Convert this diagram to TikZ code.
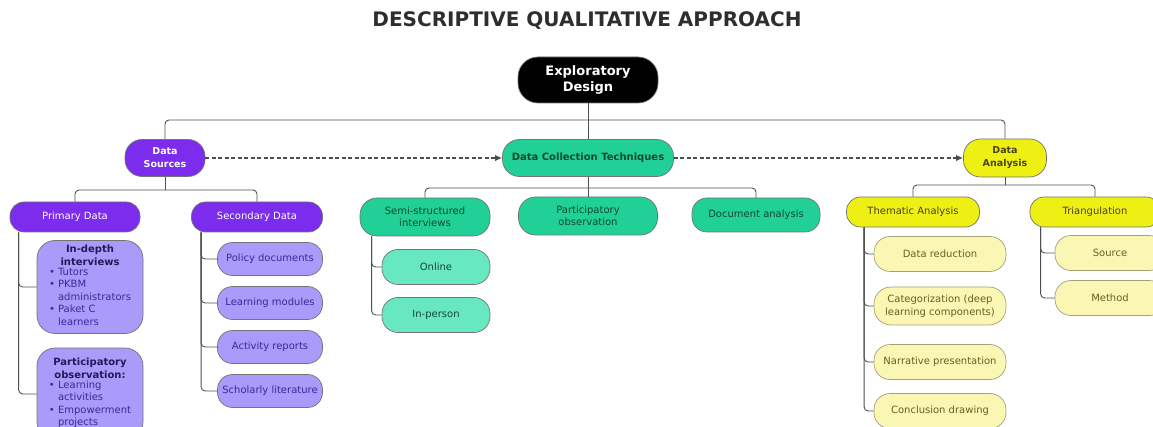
\documentclass[tikz,border=0pt]{standalone}
\usepackage{fontspec}
\setmainfont{DejaVu Sans}
\usetikzlibrary{arrows.meta}

\definecolor{dsPurple}{RGB}{124,44,236}
\definecolor{lavender}{RGB}{170,154,250}
\definecolor{lavText}{RGB}{62,40,150}
\definecolor{dcGreen}{RGB}{32,208,150}
\definecolor{lightGreen}{RGB}{104,232,192}
\definecolor{greenText}{RGB}{18,72,48}
\definecolor{daYellow}{RGB}{238,240,20}
\definecolor{paleYellow}{RGB}{250,246,180}
\definecolor{oliveText}{RGB}{105,96,30}
\definecolor{lineGray}{RGB}{80,80,80}

\tikzset{
  pill/.style={draw=black!55, line width=0.7pt, rounded corners=#1, align=center,
    inner sep=1pt, font=\fontsize{10}{12.5}\selectfont},
  pill/.default=13pt,
  rootnode/.style={pill=20pt, fill=black, text=white, font=\fontsize{13}{16}\selectfont\bfseries},
  srcnode/.style={fill=dsPurple, text=white},
  lavnode/.style={fill=lavender, text=lavText},
  dcnode/.style={fill=dcGreen, text=greenText},
  lgnode/.style={fill=lightGreen, text=greenText},
  danode/.style={fill=daYellow, text=oliveText!70!black},
  pynode/.style={fill=paleYellow, text=oliveText, draw=oliveText!60},
  link/.style={draw=lineGray, line width=0.9pt, rounded corners=4pt},
  flow/.style={draw=black!70, line width=2pt, dash pattern=on 4pt off 2.5pt,
    -{Latex[length=7pt,width=6.5pt]}}
}

\begin{document}
\begin{tikzpicture}[x=1pt,y=1pt,yscale=-1]
\useasboundingbox (0,0) rectangle (1153,427);
\clip (0,0) rectangle (1153,427);

% Title
\node (title) at (587,21) {\fontsize{20}{24}\selectfont\bfseries\color{black!82}DESCRIPTIVE QUALITATIVE APPROACH};

% Top level
\node[rootnode, minimum width=140pt, minimum height=46pt] (exd) at (588,80) {Exploratory\\Design};
\node[pill=17pt, srcnode, font=\fontsize{9.5}{13}\selectfont\bfseries, minimum width=80pt, minimum height=37pt] (ds) at (165,158) {Data\\Sources};
\node[pill=17pt, dcnode, font=\fontsize{10}{12.5}\selectfont\bfseries, minimum width=171pt, minimum height=37pt] (dct) at (588,158) {Data Collection Techniques};
\node[pill=17pt, danode, font=\fontsize{9.5}{13}\selectfont\bfseries, minimum width=83pt, minimum height=38pt] (da) at (1005,158) {Data\\Analysis};

\coordinate (topbus) at (588,120);
\coordinate (dsbus) at (165,190);
\coordinate (dcbus) at (588,188);
\coordinate (dabus) at (1005,185);

% Data sources branch
\node[pill=14pt, srcnode, minimum width=130pt, minimum height=30pt] (pd) at (75,217) {Primary Data};
\node[pill=14pt, srcnode, minimum width=131pt, minimum height=30pt] (sd) at (257,217) {Secondary Data};

\node[pill=18pt, lavnode, minimum width=106pt, minimum height=93pt] (idi) at (90,287)
  {\textbf{\color{lavText!60!black}In-depth}\\\textbf{\color{lavText!60!black}interviews}\\
   \begin{tabular}{@{}l@{\ }l@{}}•&Tutors\\•&PKBM\\&administrators\\•&Paket C\\&learners\end{tabular}};
\node[pill=18pt, lavnode, minimum width=106pt, minimum height=92pt] (pob) at (90,394)
  {\textbf{\color{lavText!60!black}Participatory}\\\textbf{\color{lavText!60!black}observation:}\\
   \begin{tabular}{@{}l@{\ }l@{}}•&Learning\\&activities\\•&Empowerment\\&projects\end{tabular}};

\node[pill=15pt, lavnode, minimum width=105pt, minimum height=33pt] (pdoc) at (270,259) {Policy documents};
\node[pill=15pt, lavnode, minimum width=105pt, minimum height=33pt] (lmod) at (270,303) {Learning modules};
\node[pill=15pt, lavnode, minimum width=105pt, minimum height=33pt] (arep) at (270,347) {Activity reports};
\node[pill=15pt, lavnode, minimum width=105pt, minimum height=33pt] (slit) at (270,391) {Scholarly literature};

% Data collection branch
\node[pill=17pt, dcnode, minimum width=130pt, minimum height=38pt] (ssi) at (425,217) {Semi-structured\\interviews};
\node[pill=17pt, dcnode, minimum width=139pt, minimum height=38pt] (pobs) at (588,216) {Participatory\\observation};
\node[pill=15pt, dcnode, minimum width=128pt, minimum height=34pt] (doc) at (756,215) {Document analysis};

\node[pill=16pt, lgnode, minimum width=108pt, minimum height=35pt] (onl) at (436,267) {Online};
\node[pill=16pt, lgnode, minimum width=108pt, minimum height=35pt] (inp) at (436,315) {In-person};

% Data analysis branch
\node[pill=14pt, danode, minimum width=133pt, minimum height=30pt] (ta) at (913,212) {Thematic Analysis};
\node[pill=14pt, danode, minimum width=130pt, minimum height=30pt] (tri) at (1095,212) {Triangulation};

\node[pill=16pt, pynode, minimum width=132pt, minimum height=35pt] (dred) at (940,254) {Data reduction};
\node[pill=17pt, pynode, minimum width=132pt, minimum height=38pt] (cat) at (940,306) {Categorization (deep\\learning components)};
\node[pill=16pt, pynode, minimum width=132pt, minimum height=35pt] (narr) at (940,362) {Narrative presentation};
\node[pill=16pt, pynode, minimum width=132pt, minimum height=35pt] (concl) at (940,411) {Conclusion drawing};

\node[pill=16pt, pynode, minimum width=110pt, minimum height=35pt] (src) at (1110,253) {Source};
\node[pill=16pt, pynode, minimum width=110pt, minimum height=35pt] (meth) at (1110,298) {Method};

% Connectors
\draw[link] (exd.south) -- (dct.north);
\draw[link] (ds.north) |- (topbus) -| (da.north);

\draw[flow] (ds.east) -- (dct.west);
\draw[flow] (dct.east) -- (da.west);

\draw[link] (ds.south) -- (dsbus);
\draw[link] (pd.north) |- (dsbus) -| (sd.north);
\draw[link] ([xshift=9pt]pd.south west) |- (idi.west);
\draw[link] ([xshift=9pt]pd.south west) |- (pob.west);
\draw[link] ([xshift=10pt]sd.south west) |- (pdoc.west);
\draw[link] ([xshift=10pt]sd.south west) |- (lmod.west);
\draw[link] ([xshift=10pt]sd.south west) |- (arep.west);
\draw[link] ([xshift=10pt]sd.south west) |- (slit.west);

\draw[link] (dct.south) -- (pobs.north);
\draw[link] (ssi.north) |- (dcbus) -| (doc.north);
\draw[link] ([xshift=12pt]ssi.south west) |- (onl.west);
\draw[link] ([xshift=12pt]ssi.south west) |- (inp.west);

\draw[link] (da.south) -- (dabus);
\draw[link] (ta.north) |- (dabus) -| (tri.north);
\draw[link] ([xshift=18pt]ta.south west) |- (dred.west);
\draw[link] ([xshift=18pt]ta.south west) |- (cat.west);
\draw[link] ([xshift=18pt]ta.south west) |- (narr.west);
\draw[link] ([xshift=18pt]ta.south west) |- (concl.west);
\draw[link] ([xshift=11pt]tri.south west) |- (src.west);
\draw[link] ([xshift=11pt]tri.south west) |- (meth.west);

\end{tikzpicture}
\end{document}
